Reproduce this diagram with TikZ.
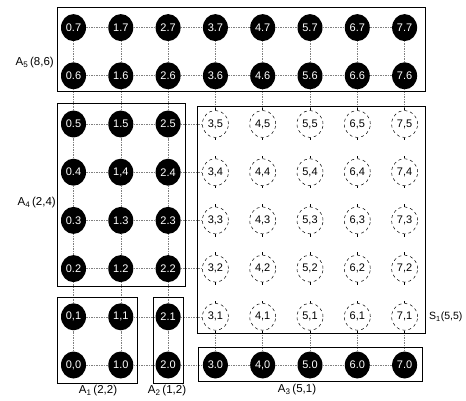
\documentclass[tikz,border=0pt]{standalone}
\usepackage{fontspec}
\setmainfont{Liberation Sans}
\usetikzlibrary{shapes.geometric}
\begin{document}
\begin{tikzpicture}[x=1pt,y=-1pt,
  bnode/.style={ellipse,fill=black,text=white,minimum width=25pt,minimum height=27pt,inner sep=0pt,font=\fontsize{11}{12}\selectfont},
  wnode/.style={ellipse,draw=black,dashed,line width=0.5pt,minimum width=26pt,minimum height=27pt,inner sep=0pt,font=\fontsize{11}{12}\selectfont},
  link/.style={draw=gray,line width=0.6pt,dash pattern=on 1.5pt off 1pt},
  tick/.style={draw=black,line width=0.5pt},
  region/.style={draw=black,line width=0.9pt},
  lbl/.style={inner sep=0pt,font=\fontsize{11.5}{13}\selectfont}]
\useasboundingbox[fill=white] (0,0) rectangle (466,401);
% black nodes
\foreach \i/\j/\t in {0/7/0.7,1/7/1.7,2/7/2.7,3/7/3.7,4/7/4.7,5/7/5.7,6/7/6.7,7/7/7.7,
  0/6/0.6,1/6/1.6,2/6/2.6,3/6/3.6,4/6/4.6,5/6/5.6,6/6/6.6,7/6/7.6,
  0/5/0.5,1/5/1.5,2/5/2.5,
  0/4/0.4,1/4/{1,4},2/4/2.4,
  0/3/0.3,1/3/1.3,2/3/2.3,
  0/2/0.2,1/2/1.2,2/2/2.2,
  0/1/{0,1},1/1/{1,1},2/1/2.1,
  0/0/{0,0},1/0/1.0,2/0/2.0,3/0/3.0,4/0/{4,0},5/0/5.0,6/0/6.0,7/0/7.0}
  \node[bnode] (n-\i-\j) at ({73.5+47.3*\i},{365-48.2*\j}) {\t};
% white nodes of S1
\foreach \i in {3,...,7}
  \foreach \j in {1,...,5}
    \node[wnode] (n-\i-\j) at ({73.5+47.3*\i},{365-48.2*\j}) {\i,\j};
% mesh links
\foreach \i in {0,...,6}
  \foreach \j in {0,...,7}{
    \pgfmathtruncatemacro\ni{\i+1}
    \pgfmathtruncatemacro\inS{and(\i>2,and(\j>0,\j<6))}
    \ifnum\inS=0 \draw[link] (n-\i-\j) -- (n-\ni-\j);\fi
  }
\foreach \i in {0,...,7}
  \foreach \j in {0,...,6}{
    \pgfmathtruncatemacro\nj{\j+1}
    \pgfmathtruncatemacro\inS{and(\i>2,and(\j>0,\j<5))}
    \ifnum\inS=0 \draw[link] (n-\i-\j) -- (n-\i-\nj);\fi
  }
% small ticks on the dashed circles
\foreach \i in {3,...,7}
  \foreach \j in {1,...,5}{
    \draw[tick] (n-\i-\j.north) -- ++(0,-2.5);
    \draw[tick] (n-\i-\j.south) -- ++(0,2.5);
  }
% regions
\draw[region] (57,7) rectangle (425,91);
\draw[region] (57,103) rectangle (185,286);
\draw[region] (197,106) rectangle (425,333);
\draw[region] (57,297) rectangle (137,383);
\draw[region] (153,297) rectangle (183,383);
\draw[region] (198,347) rectangle (422,381);
% labels
\node[lbl,anchor=east] (la5) at (54,63) {A\textsubscript{5}\,(8,6)};
\node[lbl,anchor=east] (la4) at (56,203) {A\textsubscript{4}\,(2,4)};
\node[lbl] (la1) at (98,391) {A\textsubscript{1}\,(2,2)};
\node[lbl] (la2) at (167,391) {A\textsubscript{2}\,(1,2)};
\node[lbl] (la3) at (297,390) {A\textsubscript{3}\,(5,1)};
\node[lbl,anchor=west,font=\fontsize{10.5}{12}\selectfont] (ls1) at (429,317) {S\textsubscript{1}(5,5)};
\end{tikzpicture}
\end{document}
